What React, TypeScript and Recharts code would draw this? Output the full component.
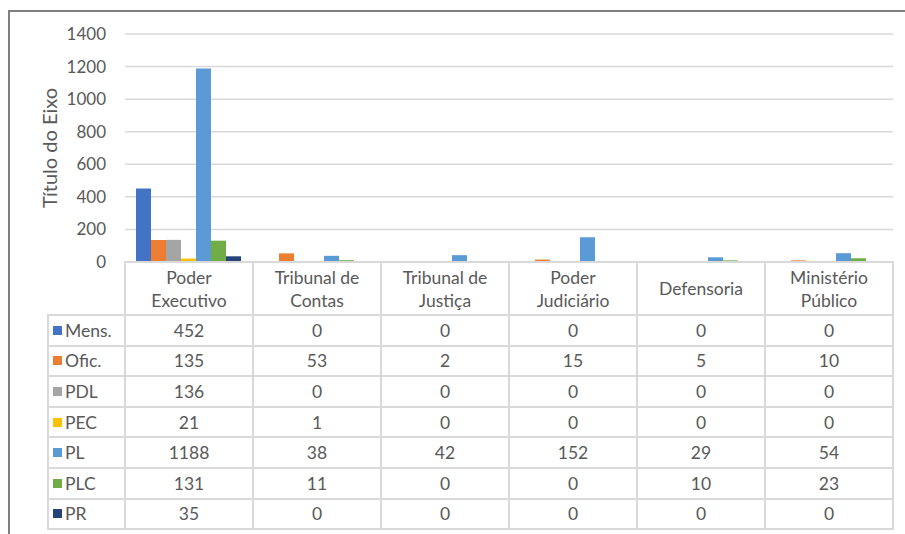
import React from 'react';
import { BarChart, Bar, YAxis, XAxis, CartesianGrid } from 'recharts';

// categorias (rótulos do eixo / cabeçalho da tabela)
const categories = [
  ['Poder', 'Executivo'],
  ['Tribunal de', 'Contas'],
  ['Tribunal de', 'Justiça'],
  ['Poder', 'Judiciário'],
  ['Defensoria'],
  ['Ministério', 'Público'],
];

const seriesNames = ['Mens.', 'Ofic.', 'PDL', 'PEC', 'PL', 'PLC', 'PR'];
const seriesColors = ['#4472C4', '#ED7D31', '#A5A5A5', '#FFC000', '#5B9BD5', '#70AD47', '#264478'];

const mens = [452, 0, 0, 0, 0, 0];
const ofic = [135, 53, 2, 15, 5, 10];
const pdl = [136, 0, 0, 0, 0, 0];
const pec = [21, 1, 0, 0, 0, 0];
const pl = [1188, 38, 42, 152, 29, 54];
const plc = [131, 11, 0, 0, 10, 23];
const pr = [35, 0, 0, 0, 0, 0];

const yTicks = [0, 200, 400, 600, 800, 1000, 1200, 1400];

const seriesValues = [mens, ofic, pdl, pec, pl, plc, pr];

const chartData = categories.map((c, i) => {
  const row: Record<string, number | string> = { name: c.join(' ') };
  seriesNames.forEach((s, j) => {
    row[s] = seriesValues[j][i];
  });
  return row;
});

const FONT = 'Lato, "Open Sans", sans-serif';
const TEXT = '#595959';
const LINE = '#d9d9d9';

// geometria da área de plotagem / tabela
const PLOT_LEFT = 125;
const PLOT_RIGHT = 893;
const PLOT_TOP = 34;
const PLOT_BOTTOM = 262;
const HEADER_H = 53;
const ROW_H = 30.6;
const LABEL_LEFT = 48;
const COL_W = (PLOT_RIGHT - PLOT_LEFT) / categories.length;
const TABLE_FS = 17.5;

function Cell({ x, y, w, h, children }: any) {
  return (
    <div
      style={{
        position: 'absolute',
        left: x - 1,
        top: y - 1,
        width: w + 2,
        height: h + 2,
        boxSizing: 'border-box',
        border: `2px solid ${LINE}`,
        display: 'flex',
        alignItems: 'center',
        justifyContent: 'center',
        textAlign: 'center',
        color: TEXT,
        fontSize: TABLE_FS,
        lineHeight: '23px',
      }}
    >
      {children}
    </div>
  );
}

function DataTable() {
  const rowsTop = PLOT_BOTTOM + HEADER_H;
  return (
    <>
      {categories.map((c, i) => (
        <Cell key={'h' + i} x={PLOT_LEFT + i * COL_W} y={PLOT_BOTTOM} w={COL_W} h={HEADER_H}>
          <div>
            {c.map((l, k) => (
              <div key={k}>{l}</div>
            ))}
          </div>
        </Cell>
      ))}
      {seriesNames.map((s, r) => (
        <React.Fragment key={s}>
          <div
            style={{
              position: 'absolute',
              left: LABEL_LEFT - 1,
              top: rowsTop + r * ROW_H - 1,
              width: PLOT_LEFT - LABEL_LEFT + 2,
              height: ROW_H + 2,
              boxSizing: 'border-box',
              border: `2px solid ${LINE}`,
              display: 'flex',
              alignItems: 'center',
              color: TEXT,
              fontSize: TABLE_FS,
            }}
          >
            <span
              style={{
                display: 'inline-block',
                width: 9,
                height: 9,
                background: seriesColors[r],
                marginLeft: 4,
                marginRight: 3,
              }}
            />
            {s}
          </div>
          {categories.map((c, i) => (
            <Cell key={i} x={PLOT_LEFT + i * COL_W} y={rowsTop + r * ROW_H} w={COL_W} h={ROW_H}>
              {seriesValues[r][i]}
            </Cell>
          ))}
        </React.Fragment>
      ))}
    </>
  );
}

export default function App() {
  return (
    <div
      style={{
        position: 'absolute',
        left: 0,
        top: 0,
        width: 905,
        height: 534,
        overflow: 'hidden',
        background: '#fff',
        fontFamily: FONT,
      }}
    >
      {/* moldura do gráfico */}
      <div
        style={{
          position: 'absolute',
          left: 8,
          top: 10,
          width: 920,
          height: 540,
          borderTop: '2px solid #7f7f7f',
          borderLeft: '2px solid #7f7f7f',
        }}
      />
      <div style={{ position: 'absolute', left: 0, top: 0 }}>
        <BarChart
          width={905}
          height={534}
          data={chartData}
          margin={{ top: PLOT_TOP, right: 905 - PLOT_RIGHT, bottom: 534 - PLOT_BOTTOM, left: 65 }}
          barCategoryGap={11}
          barGap={0}
        >
          <CartesianGrid vertical={false} stroke={LINE} strokeWidth={1.5} />
          <XAxis dataKey="name" hide />
          <YAxis
            width={60}
            domain={[0, 1400]}
            ticks={yTicks}
            axisLine={false}
            tickLine={false}
            tickMargin={13}
            tick={{ fill: TEXT, fontSize: 17, fontFamily: FONT }}
            label={{
              value: 'Título do Eixo',
              angle: -90,
              position: 'insideLeft',
              offset: -15,
              style: { fill: TEXT, fontSize: 20, fontFamily: FONT, textAnchor: 'middle' },
            }}
          />
          {seriesNames.map((s, j) => (
            <Bar key={s} dataKey={s} fill={seriesColors[j]} isAnimationActive={false} />
          ))}
        </BarChart>
      </div>
      <DataTable />
    </div>
  );
}
